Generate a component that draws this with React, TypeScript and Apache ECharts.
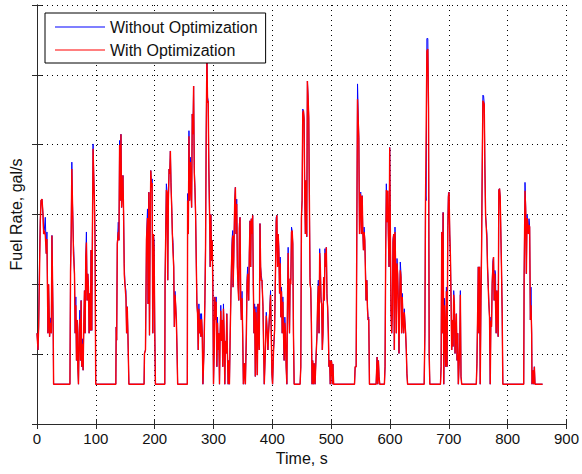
import React, { useEffect, useRef } from "react";
import * as echarts from "echarts";

// Fuel rate with optimization (red), [time s, value]
const withOptimization: [number, number][] = [
  [0, 1.3], [1.7, 1.06], [2.8, 1.39], [4.5, 2.3], [5.6, 2.9], [6.8, 3.2], [8.5, 3.22], [10.2, 3.0], [11.3, 2.72], [12.4, 2.77], [14.1, 2.7], [15.8, 2.44], [16.9, 2.65], [18.6, 1.3], [19.7, 2.0], [21.4, 1.25], [22.6, 1.45], [24.3, 1.3], [25.4, 2.7], [26.5, 2.0], [27.6, 1.3], [28.2, 0.57],
  [56.0, 0.57], [57, 2.18], [58.1, 2.72], [59.2, 3.65], [60.3, 3.18], [62.0, 2.45], [63.7, 2.15], [64.9, 1.3], [66.0, 1.7], [67.1, 0.91], [68.2, 1.49], [69.4, 0.82], [70.5, 0.57], [71.6, 1.3], [72.8, 1.5], [73.9, 0.91], [75.0, 1.77], [76.1, 0.82], [77.3, 1.15], [78.4, 0.77], [79.5, 1.39], [80.7, 1.91], [81.8, 1.3], [82.9, 2.39], [84.0, 2.6], [85.2, 1.77], [86.3, 2.15], [87.4, 1.96], [88.6, 1.3], [89.7, 1.87], [90.8, 1.34], [91.9, 2.49], [93.1, 1.34], [94.2, 2.72], [95.3, 3.94], [96.4, 3.58], [97.6, 3.2], [98.7, 2.55], [99.8, 0.57],
  [134.0, 0.57], [134.6, 1.39], [135.4, 1.2], [136.5, 2.58], [138.2, 2.75], [139.3, 2.63], [140.4, 4.0], [141.6, 3.2], [142.7, 4.15], [143.8, 3.1], [145.0, 3.34], [146.1, 3.56], [147.2, 3.0], [148.3, 2.15], [149.5, 2.0], [151.2, 1.8], [152.3, 1.3], [153.4, 1.68], [154.5, 1.3], [156.2, 0.57],
  [182.0, 0.57], [182.7, 1.01], [184.4, 1.06], [186.1, 2.65], [187.8, 2.95], [188.9, 1.72], [190.1, 3.32], [191.2, 1.27], [192.3, 2.72], [193.4, 3.63], [194.6, 3.39], [195.7, 3.45], [196.8, 1.3], [197.9, 2.72], [199.1, 2.5], [200.2, 1.3], [201.3, 0.57],
  [217.2, 0.57], [217.7, 2.06], [218.8, 2.06], [219.9, 3.35], [221.1, 3.32], [222.2, 2.06], [223.3, 3.2], [224.5, 3.65], [225.6, 3.58], [226.7, 3.91], [227.8, 3.4], [229.0, 3.1], [230.1, 2.72], [231.2, 2.45], [232.4, 2.25], [233.5, 1.39], [234.6, 1.85], [235.7, 1.7], [236.9, 1.49], [238.0, 1.06], [239.1, 0.57],
  [255.5, 0.57], [256.0, 3.2], [257.2, 2.72], [258.3, 4.12], [259.4, 3.2], [260.6, 3.75], [261.7, 3.39], [262.8, 3.1], [263.9, 4.44], [265.1, 4.15], [266.2, 4.84], [267.3, 3.6], [268.4, 3.39], [269.6, 3.0], [270.7, 2.34], [271.8, 1.72], [272.9, 1.58], [274.1, 1.06], [275.2, 1.65], [276.3, 1.3], [277.5, 1.5], [278.6, 1.25], [279.7, 1.5], [280.9, 1.3], [282.0, 0.57], [283.7, 1.01], [285.4, 1.77], [286.5, 2.5], [287.6, 4.15], [288.8, 5.3], [289.9, 4.6], [291.0, 4.63], [292.1, 3.65], [293.3, 3.0], [294.4, 2.25], [295.5, 3.0], [296.7, 2.34], [297.8, 2.63], [298.9, 1.95], [300.0, 0.57], [301.2, 1.06], [302.3, 1.82], [303.4, 1.49], [304.5, 1.75], [305.7, 0.82], [306.8, 1.45], [307.9, 1.06], [309.1, 1.3], [310.2, 0.57], [311.3, 1.3], [312.4, 1.62], [313.6, 1.19], [314.7, 1.49], [315.8, 0.82], [316.9, 1.65], [318.1, 1.3], [319.2, 0.57], [320.3, 1.19], [321.5, 1.01], [322.6, 1.58], [323.7, 1.01], [324.9, 0.57], [326.0, 0.91], [327.1, 0.57], [328.2, 1.19], [329.4, 1.77], [330.5, 2.25], [331.6, 2.55], [332.7, 2.7], [333.3, 1.96], [334.4, 2.34], [336.1, 3.2], [337.2, 3.39], [338.4, 2.72], [339.5, 3.15], [340.6, 2.25], [341.8, 1.95], [342.9, 1.77], [344.0, 2.8], [345.1, 2.96], [346.3, 1.77], [347.4, 1.49], [348.5, 1.8], [349.6, 1.3], [350.8, 0.57], [352.5, 0.87], [354.2, 0.57], [355.9, 1.3], [357.0, 2.0], [358.1, 2.15], [359.8, 1.77], [360.9, 2.44], [362.1, 2.91], [363.2, 2.25], [364.3, 2.94], [365.4, 2.72], [366.6, 2.99], [367.7, 2.01], [368.8, 1.3], [369.9, 1.65], [371.1, 0.68], [372.2, 1.6], [373.3, 1.3], [374.5, 0.7], [375.6, 1.72], [376.7, 1.3], [377.8, 1.06], [379.0, 2.87], [380.1, 2.25], [381.2, 2.05], [382.4, 2.06], [384.1, 1.68], [385.2, 1.11], [386.3, 0.57], [388.0, 1.01], [389.7, 1.55], [391.4, 1.3], [392.5, 1.06], [393.6, 1.3], [395.3, 1.55], [397.0, 1.85], [398.2, 1.3], [399.3, 0.72], [400.4, 0.57], [402.1, 1.06], [403.8, 1.34], [405.5, 2.25], [406.6, 2.9], [407.7, 2.99], [408.9, 2.25], [410.0, 2.72], [411.1, 2.45], [412.3, 1.87], [413.4, 2.3], [414.5, 1.53], [415.6, 1.9], [416.8, 1.3], [417.9, 1.75], [419.0, 1.3], [420.1, 0.91], [421.3, 1.45], [422.4, 1.3], [423.5, 0.82], [424.7, 0.57], [425.8, 1.77], [426.9, 2.45], [428.0, 1.77], [429.2, 1.3], [430.3, 2.08], [431.4, 2.0], [432.6, 2.75], [433.7, 2.77], [434.8, 2.58], [435.9, 1.3], [437.1, 0.57],
  [447.2, 0.57], [448.4, 0.82], [449.5, 2.96], [450.6, 3.2], [451.7, 4.45], [452.9, 4.49], [454.0, 4.37], [455.1, 3.25], [456.2, 2.72], [457.4, 3.49], [458.5, 2.68], [459.6, 4.91], [460.8, 4.68], [461.9, 4.39], [463.0, 3.2], [464.1, 2.0], [465.3, 1.94], [466.4, 1.44], [467.5, 0.57], [468.6, 0.91], [469.8, 0.57], [470.9, 0.87], [472.6, 0.57], [474.3, 0.96], [476.0, 1.3], [477.1, 1.77], [478.2, 1.98], [479.4, 1.3], [480.5, 2.45], [481.6, 2.25], [482.8, 1.75], [483.9, 1.72], [485.0, 1.06], [486.1, 1.3], [487.3, 2.1], [488.4, 1.77], [489.5, 2.45], [490.6, 2.25], [491.8, 2.53], [492.9, 1.8], [494.0, 1.68], [495.2, 1.3], [496.3, 0.82], [497.4, 0.91], [498.5, 0.57], [499.7, 0.91], [500.8, 0.89], [501.9, 0.57], [503.0, 0.86], [504.2, 0.57],
  [539.7, 0.57], [540.8, 0.82], [542.5, 0.82], [543.6, 2.72], [544.8, 4.65], [545.9, 4.65], [547.0, 4.1], [548.2, 2.72], [549.3, 3.3], [550.4, 3.25], [551.5, 2.72], [552.7, 3.27], [553.8, 2.77], [554.9, 2.49], [556.0, 2.75], [557.2, 2.63], [558.3, 2.15], [559.4, 1.77], [560.6, 2.06], [561.7, 1.65], [562.8, 1.49], [563.9, 1.5], [565.1, 0.57],
  [576.4, 0.57], [578.1, 0.96], [579.2, 0.57], [580.3, 0.91], [581.4, 0.68], [582.6, 0.57],
  [590.5, 0.57], [591.6, 0.82], [592.7, 2.49], [593.8, 3.35], [595.0, 2.89], [596.1, 3.34], [597.2, 2.72], [598.4, 2.25], [599.5, 3.96], [600.6, 3.96], [601.7, 1.63], [602.9, 1.3], [604.0, 1.6], [605.1, 2.6], [606.3, 2.72], [607.4, 1.06], [608.5, 2.75], [609.6, 2.25], [610.8, 1.3], [611.9, 2.3], [613.0, 2.15], [614.1, 1.77], [615.3, 1.01], [616.4, 1.77], [617.5, 2.2], [618.7, 2.1], [619.8, 1.3], [620.9, 1.82], [622.0, 1.49], [623.2, 1.3], [624.3, 1.6], [625.4, 1.46], [626.6, 1.3], [627.7, 1.06], [628.8, 0.72], [629.9, 0.57],
  [658.1, 0.57], [659.3, 1.3], [660.4, 3.2], [661.5, 3.2], [662.7, 5.34], [664.3, 5.37], [665.5, 4.53], [666.6, 1.01], [667.7, 0.57],
  [685.8, 0.57], [686.9, 0.82], [688.0, 2.75], [689.1, 1.3], [690.3, 3.03], [691.4, 0.57], [692.5, 1.7], [693.7, 1.3], [694.8, 0.82], [695.9, 1.9], [697.0, 0.82], [698.2, 2.7], [699.3, 3.25], [700.4, 3.32], [701.6, 2.72], [702.7, 2.41], [703.8, 1.75], [704.9, 1.06], [706.1, 1.49], [707.2, 1.11], [708.3, 1.85], [709.4, 1.72], [710.6, 1.01], [711.7, 1.3], [712.8, 1.58], [714.0, 0.91], [715.1, 1.3], [716.2, 0.57], [717.3, 0.82], [718.5, 1.11], [719.6, 1.85], [720.7, 0.68], [721.9, 0.57],
  [746.7, 0.57], [747.8, 0.87], [748.9, 0.87], [750.1, 2.25], [751.2, 1.3], [752.3, 2.25], [753.4, 0.57], [754.6, 1.77], [755.7, 2.5], [756.8, 3.68], [757.9, 4.63], [759.1, 4.63], [760.2, 4.58], [761.3, 3.68], [762.5, 2.99], [763.6, 2.99], [764.7, 2.65], [765.8, 2.25], [767.0, 2.25], [768.1, 1.7], [769.2, 1.53], [770.4, 0.57], [771.5, 1.48], [772.6, 1.39], [773.7, 2.01], [774.9, 2.25], [776.0, 2.39], [777.1, 1.77], [778.3, 2.15], [779.4, 2.15], [780.5, 1.3], [781.6, 1.91], [782.8, 1.58], [783.9, 1.25], [785.0, 3.34], [786.2, 3.37], [787.3, 3.25], [788.4, 3.25], [789.5, 2.25], [790.7, 1.58], [791.8, 0.57],
  [827.3, 0.57], [828.0, 2.1], [829.5, 3.34], [830.7, 3.05], [831.8, 2.15], [832.9, 2.95], [834.1, 2.89], [835.2, 2.72], [836.3, 2.85], [837.4, 2.82], [838.6, 1.49], [839.7, 1.7], [840.8, 1.3], [841.4, 0.57], [843.1, 0.77], [844.2, 0.57], [845.4, 0.82], [846.5, 0.57], [859.4, 0.57],
];

// Points where the "without optimization" (blue) curve rises above the red one, [time s, value]
const withoutOptimizationPeaks: [number, number][] = [
  [4.5, 2.45], [14.1, 2.96], [16.9, 2.75], [22.6, 1.52],
  [59.2, 3.75], [62.0, 2.6], [66.0, 1.82], [72.8, 1.63], [77.3, 1.22], [84.0, 2.75], [87.4, 2.02], [95.3, 4.01], [98.7, 2.7],
  [138.2, 2.89], [140.4, 4.06], [148.3, 2.3], [151.2, 1.91],
  [187.8, 3.08], [195.7, 3.51], [199.1, 2.62],
  [219.9, 3.44], [227.8, 3.46], [231.2, 2.6], [234.6, 1.9],
  [256.0, 3.3], [258.3, 4.2], [260.6, 3.82], [267.3, 3.7], [275.2, 1.72], [277.5, 1.58], [279.7, 1.58], [286.5, 2.58], [289.9, 4.68], [298.9, 2.0], [304.5, 1.82], [306.8, 1.53], [312.4, 1.7], [316.9, 1.72], [331.6, 2.65], [332.7, 2.77],
  [339.5, 3.22], [341.8, 2.01], [344.0, 2.87], [348.5, 1.9], [357.0, 2.08], [358.1, 2.25], [369.9, 1.72], [372.2, 1.68], [381.2, 2.13], [389.7, 1.6], [395.3, 1.6], [397.0, 1.91], [406.6, 2.96], [411.1, 2.53], [413.4, 2.39], [415.6, 1.96], [417.9, 1.82], [421.3, 1.53], [426.9, 2.53], [431.4, 2.06], [432.6, 2.82],
  [451.7, 4.51], [455.1, 3.32], [464.1, 2.1], [478.2, 2.06], [480.5, 2.51], [482.8, 1.82], [489.5, 2.51], [492.9, 1.87],
  [544.8, 4.87], [545.9, 4.87], [550.4, 3.32], [556.0, 2.82], [558.3, 2.25], [561.7, 1.7], [563.9, 1.53],
  [593.8, 3.44], [604.0, 1.63], [605.1, 2.65], [608.5, 2.82], [611.9, 2.37], [617.5, 2.32], [618.7, 2.15], [620.9, 1.87], [624.3, 1.65],
  [660.4, 3.27], [662.7, 5.52], [664.3, 5.52],
  [692.5, 1.8], [695.9, 1.96], [698.2, 2.84], [699.3, 3.3], [703.8, 1.82], [708.3, 1.91], [719.6, 1.91],
  [755.7, 2.56], [757.9, 4.71], [759.1, 4.7], [764.7, 2.72], [768.1, 1.75], [771.5, 1.53], [774.9, 2.34], [778.3, 2.2], [785.0, 3.36],
  [829.5, 3.46], [830.7, 3.1], [832.9, 3.0], [836.3, 2.94], [839.7, 1.96],
];

const seriesNames = ["Without Optimization", "With Optimization"];
const xTicks = { min: 0, max: 900, interval: 100 };
const yTicks = { min: 0, max: 6, interval: 1 };

const FONT = "'Liberation Sans', Arial, Helvetica, sans-serif";
const FRAME = "#2a2a2a";

export default function App() {
  const ref = useRef<HTMLDivElement>(null);

  useEffect(() => {
    if (!ref.current) return;
    const chart = echarts.init(ref.current, undefined, { renderer: "svg" });

    const peakMap = new Map<number, number>(withoutOptimizationPeaks.map(([t, v]) => [t, v]));
    const blueData = withOptimization.map(([t, v]) => [t, peakMap.has(t) ? (peakMap.get(t) as number) : v]);

    const gridLine = { show: true, lineStyle: { color: "#000", width: 1, type: [1, 4] as any } };
    const tick = { show: true, inside: true, length: 5, lineStyle: { color: FRAME, width: 1 } };
    const axisLine = { show: true, lineStyle: { color: FRAME, width: 1 } };

    chart.setOption({
      animation: false,
      backgroundColor: "#fff",
      textStyle: { fontFamily: FONT },
      grid: { left: 37, right: 13, top: 5, bottom: 50, containLabel: false },
      legend: {
        data: seriesNames.map((name) => ({ name, icon: "rect" })),
        orient: "vertical",
        left: 45,
        top: 13,
        backgroundColor: "#fff",
        borderColor: "#000",
        borderWidth: 1,
        borderRadius: 0,
        padding: [5, 8, 4, 10],
        itemGap: 5,
        itemWidth: 50,
        itemHeight: 1.2,
        textStyle: { fontSize: 16, color: "#111", fontFamily: FONT, lineHeight: 18 },
      },
      xAxis: [
        {
          type: "value",
          ...xTicks,
          position: "bottom",
          name: "Time, s",
          nameLocation: "middle",
          nameGap: 25,
          nameTextStyle: { fontSize: 16, color: "#111", fontFamily: FONT },
          axisLine,
          axisTick: tick,
          splitLine: gridLine,
          axisLabel: { fontSize: 15, color: "#111", margin: 7, fontFamily: FONT },
        },
        {
          type: "value",
          ...xTicks,
          position: "top",
          axisLine,
          axisTick: tick,
          splitLine: { show: false },
          axisLabel: { show: false },
        },
      ],
      yAxis: [
        {
          type: "value",
          ...yTicks,
          position: "left",
          name: "Fuel Rate, gal/s",
          nameLocation: "middle",
          nameGap: 13,
          nameTextStyle: { fontSize: 16, color: "#111", fontFamily: FONT },
          axisLine,
          axisTick: tick,
          splitLine: gridLine,
          axisLabel: { show: false },
        },
        {
          type: "value",
          ...yTicks,
          position: "right",
          axisLine,
          axisTick: tick,
          splitLine: { show: false },
          axisLabel: { show: false },
        },
      ],
      series: [
        {
          name: seriesNames[0],
          type: "line",
          xAxisIndex: 0,
          yAxisIndex: 0,
          data: blueData,
          symbol: "none",
          showSymbol: false,
          color: "#0000ff",
          itemStyle: { color: "#0000ff" },
          lineStyle: { color: "#0000ff", width: 1 },
          z: 2,
        },
        {
          name: seriesNames[1],
          type: "line",
          xAxisIndex: 0,
          yAxisIndex: 0,
          data: withOptimization,
          symbol: "none",
          showSymbol: false,
          color: "#ff0000",
          itemStyle: { color: "#ff0000" },
          lineStyle: { color: "#ff0000", width: 1.4 },
          z: 3,
        },
      ],
    });

    return () => chart.dispose();
  }, []);

  return (
    <div
      ref={ref}
      style={{ position: "absolute", left: 0, top: 0, width: 582, height: 474, background: "#fff" }}
    />
  );
}
